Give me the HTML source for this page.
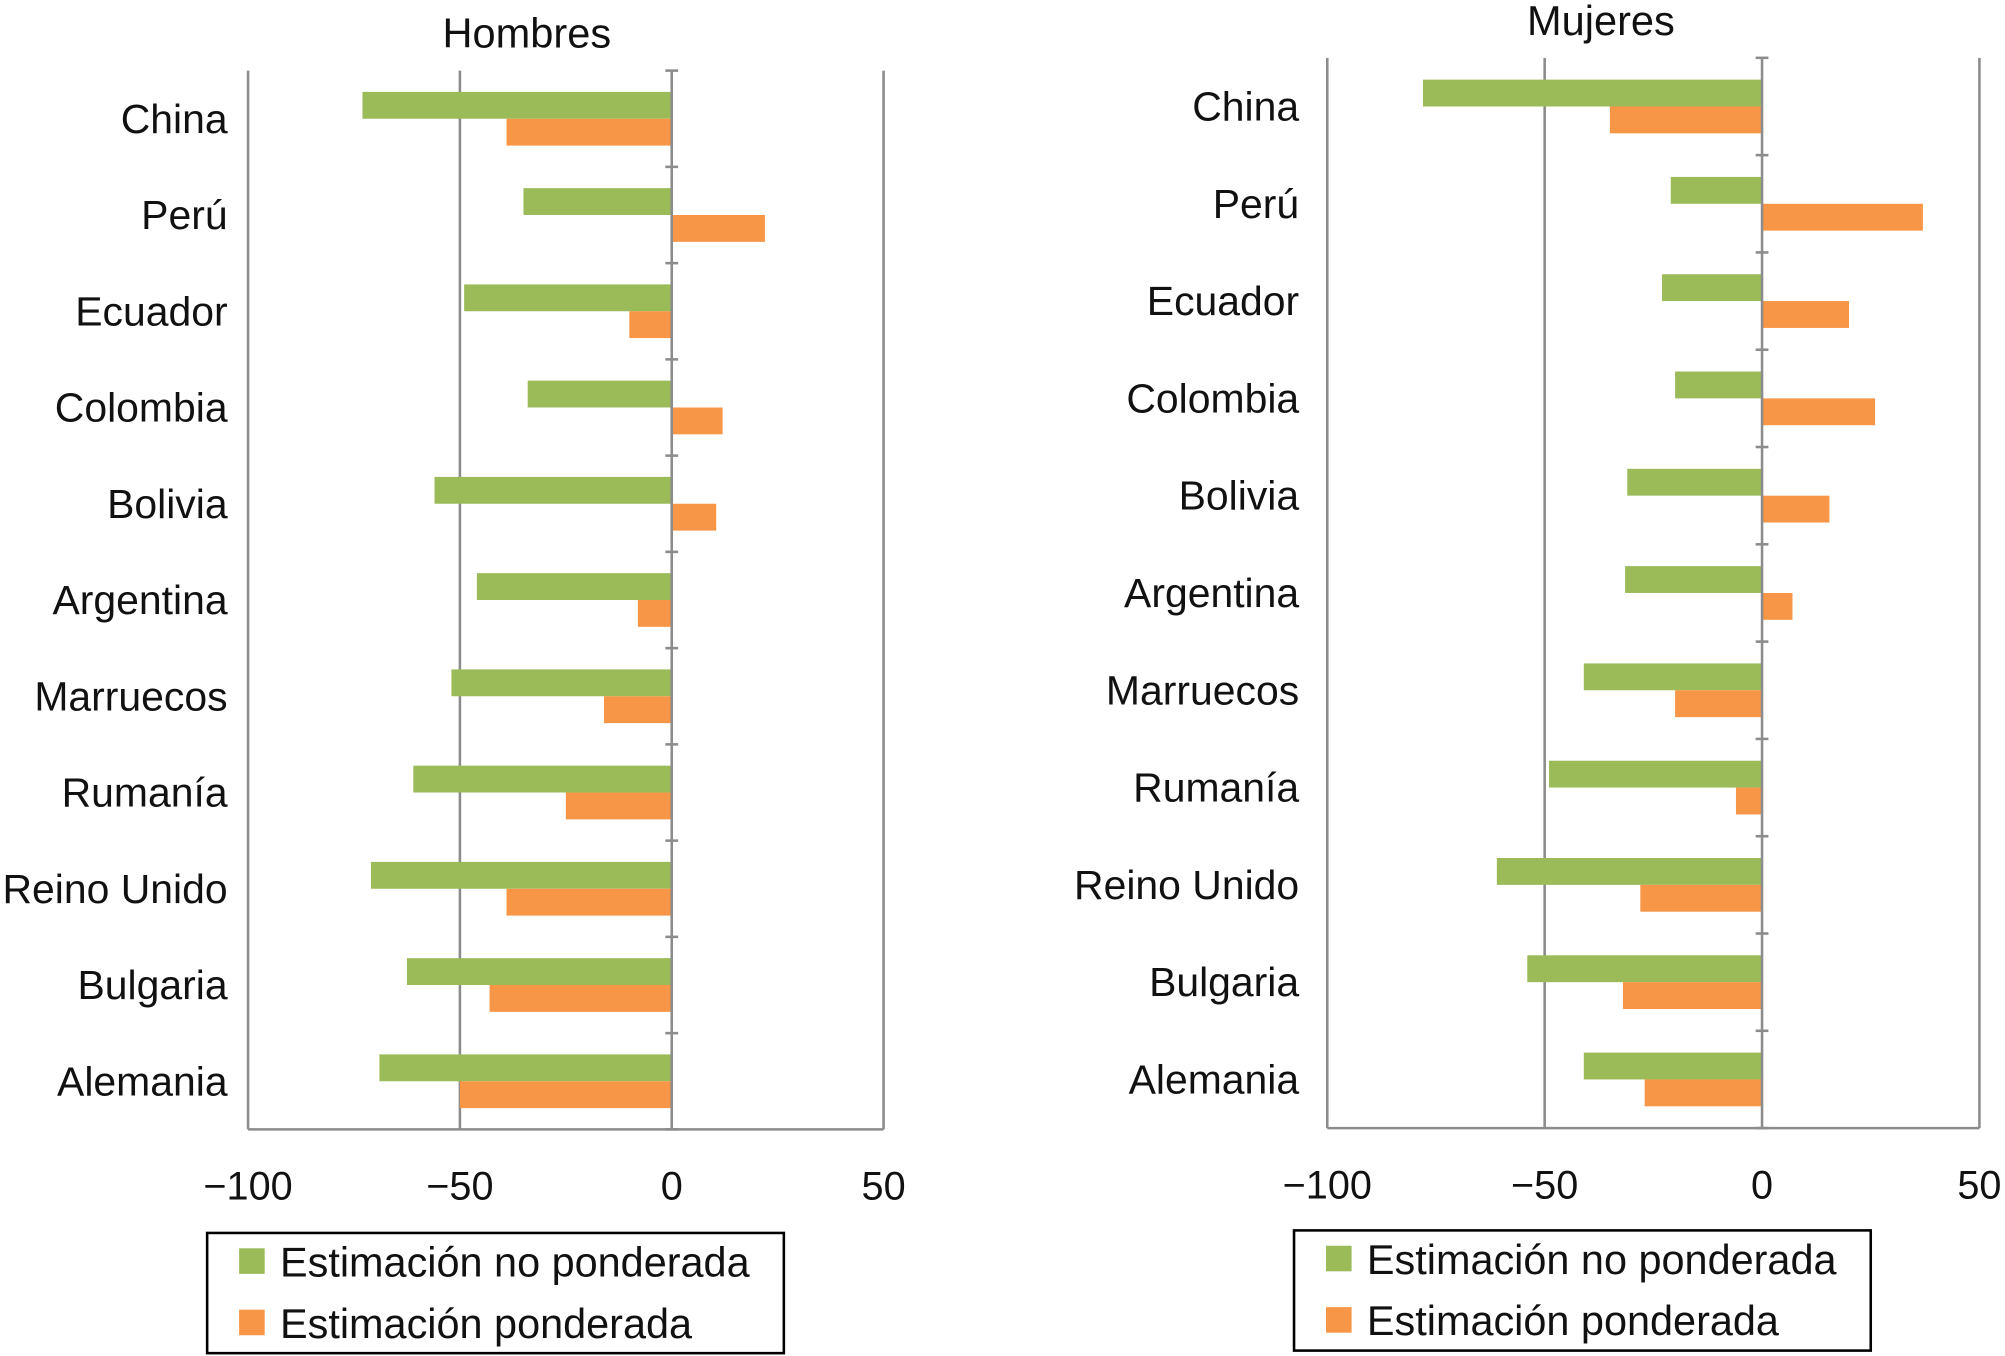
<!DOCTYPE html>
<html><head><meta charset="utf-8"><style>
html,body{margin:0;padding:0;background:#fff;}
svg{display:block;}
text{font-family:"Liberation Sans",Arial,sans-serif;fill:#111;}
</style></head><body>
<svg id="chart" width="2005" height="1356" viewBox="0 0 1568 1060">
</svg>
<script>
const categories = ["China","Perú","Ecuador","Colombia","Bolivia","Argentina","Marruecos","Rumanía","Reino Unido","Bulgaria","Alemania"];
const menUnweighted = [-73,-35,-49,-34,-56,-46,-52,-61,-71,-62.5,-69];
const menWeighted = [-39,22,-10,12,10.5,-8,-16,-25,-39,-43,-50];
const womenUnweighted = [-78,-21,-23,-20,-31,-31.5,-41,-49,-61,-54,-41];
const womenWeighted = [-35,37,20,26,15.5,7,-20,-6,-28,-32,-27];
const xTicks = [-100,-50,0,50];
const xTickLabels = ["\u2212100","\u221250","0","50"];
const seriesNames = ["Estimación no ponderada","Estimación ponderada"];

const NS="http://www.w3.org/2000/svg";
const svg=document.getElementById('chart');
function mk(tag,attrs,parent){const e=document.createElementNS(NS,tag);for(const k in attrs)e.setAttribute(k,attrs[k]);(parent||svg).appendChild(e);return e;}

function panel(cfg){
  const g=mk('g',{});
  
  
  const xs=v=>cfg.x0+(v-(-100))*(cfg.x1-cfg.x0)/150;
  const band=(cfg.bottom-cfg.top)/categories.length;
  xTicks.forEach((t,i)=>{
    if(t===0)return;
    const l=mk('line',{x1:xs(t),x2:xs(t),y1:cfg.top,y2:cfg.bottom,stroke:'#8c8c8c','stroke-width':2},g);
    
    
  });
  const ax=mk('line',{x1:xs(-100),x2:xs(50),y1:cfg.bottom,y2:cfg.bottom,stroke:'#8c8c8c','stroke-width':2},g);
  
  
  categories.forEach((c,i)=>{
    const cy=cfg.top+band*(i+0.5);
    const bh=21;
    const vals=[cfg.a[i],cfg.b[i]];
    vals.forEach((v,k)=>{
      const x=Math.min(xs(0),xs(v)),w=Math.abs(xs(v)-xs(0));
      const r=mk('rect',{x:x,y:k===0?cy-bh:cy,width:w,height:bh,fill:k===0?'#9bbb59':'#f79646'},g);
      
      
    });
    const t=mk('text',{x:cfg.labelX,y:cy+11,'text-anchor':'end','font-size':32},g);
    t.textContent=c;
    
    
  });
  const z=mk('line',{x1:xs(0),x2:xs(0),y1:cfg.top,y2:cfg.bottom,stroke:'#8c8c8c','stroke-width':2},g);
  
  
  for(let i=0;i<=categories.length;i++){
    const y=cfg.top+band*i;
    const tk=mk('line',{x1:xs(0)-5,x2:xs(0)+5,y1:y,y2:y,stroke:'#8c8c8c','stroke-width':2},g);
    
    
  }
  xTicks.forEach((t,i)=>{
    const tl=mk('text',{x:xs(t),y:cfg.bottom+55,'text-anchor':'middle','font-size':31},g);
    tl.textContent=xTickLabels[i];
    
    
  });
  const ti=mk('text',{x:cfg.titleX,y:cfg.titleY,'text-anchor':'middle','font-size':32.5},g);
  ti.textContent=cfg.title;
  
  
  const lg=mk('g',{},g);
  
  
  mk('rect',{x:cfg.lx,y:cfg.ly,width:451,height:94,fill:'#fff',stroke:'#000','stroke-width':2},lg);
  seriesNames.forEach((s,k)=>{
    const e=mk('g',{},lg);
    
    
    mk('rect',{x:cfg.lx+25,y:cfg.ly+12+k*48,width:20,height:20,fill:k===0?'#9bbb59':'#f79646'},e);
    const t=mk('text',{x:cfg.lx+57,y:cfg.ly+34+k*48,'font-size':32.4},e);
    t.textContent=s;
  });
}
panel({name:'hombres-panel',x0:194,x1:691,top:55,bottom:883,labelX:178,a:menUnweighted,b:menWeighted,title:'Hombres',titleX:412,titleY:37,lx:162,ly:964});
panel({name:'mujeres-panel',x0:1038,x1:1548,top:45,bottom:882,labelX:1016,a:womenUnweighted,b:womenWeighted,title:'Mujeres',titleX:1252,titleY:27,lx:1012,ly:962});
</script>
</body></html>
